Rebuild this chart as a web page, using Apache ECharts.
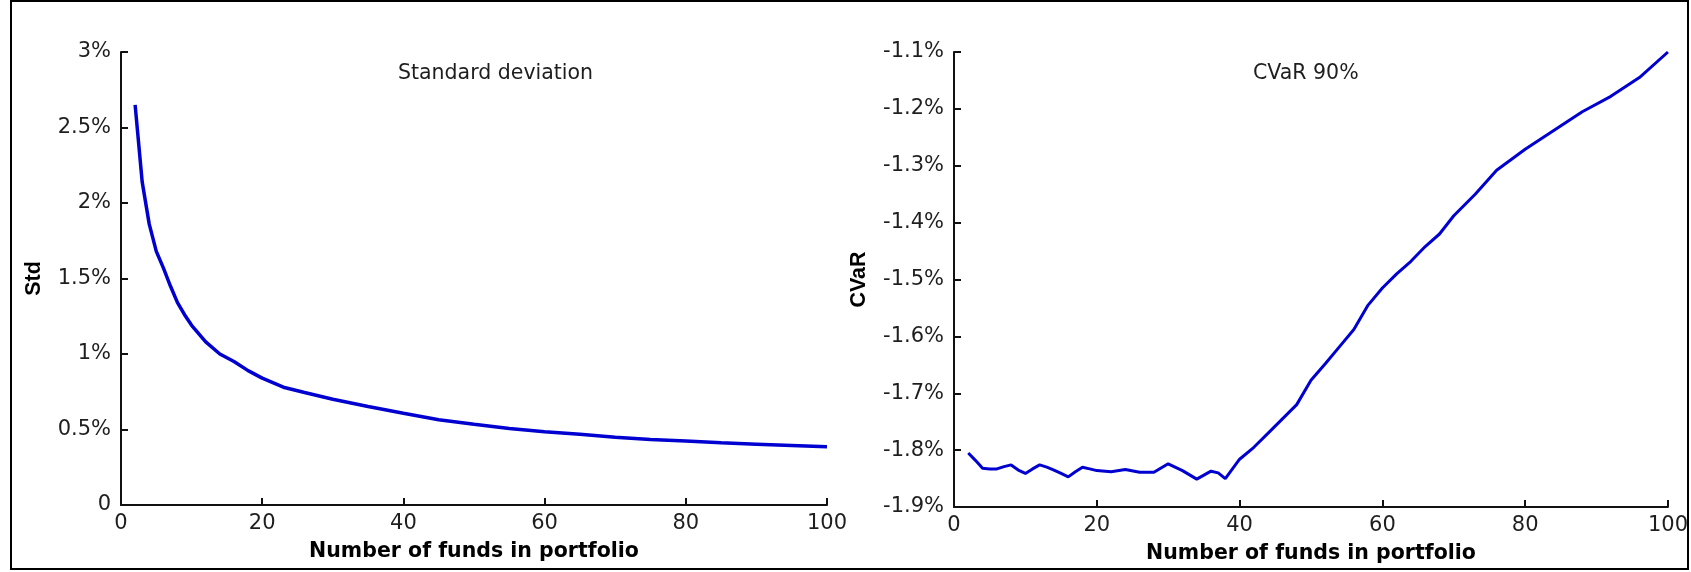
<!DOCTYPE html>
<html>
<head>
<meta charset="utf-8">
<script src="https://cdn.jsdelivr.net/npm/echarts@6/dist/echarts.min.js"></script>
<style>
html,body{margin:0;padding:0;background:#fff;}
#chart{width:1691px;height:572px;}
</style>
</head>
<body>
<div id="chart"></div>
<script>
// ---- data (values in percent) ----
const stdX = [2, 3, 4, 5, 6, 7, 8, 9, 10, 12, 14, 16, 18, 20, 23, 26, 30, 35, 40, 45, 50, 55, 60, 65, 70, 75, 80, 85, 90, 95, 100];
const stdY = [2.65, 2.14, 1.86, 1.68, 1.57, 1.45, 1.34, 1.26, 1.19, 1.08, 1.00, 0.95, 0.89, 0.84, 0.78, 0.745, 0.70, 0.652, 0.608, 0.565, 0.535, 0.507, 0.485, 0.468, 0.448, 0.434, 0.424, 0.412, 0.403, 0.394, 0.385];

const cvarX = [2, 3, 4, 5, 6, 7, 8, 9, 10, 11, 12, 13, 14, 15, 16, 17, 18, 19, 20, 22, 24, 26, 28, 30, 32, 34, 36, 37, 38, 40, 42, 44, 46, 48, 50, 52, 54, 56, 58, 60, 62, 64, 66, 68, 70, 73, 76, 80, 84, 88, 92, 96, 100];
const cvarY = [-1.805, -1.818, -1.832, -1.833, -1.833, -1.829, -1.826, -1.835, -1.841, -1.833, -1.826, -1.830, -1.835, -1.841, -1.847, -1.838, -1.830, -1.833, -1.836, -1.838, -1.834, -1.839, -1.839, -1.824, -1.836, -1.851, -1.837, -1.840, -1.850, -1.816, -1.795, -1.770, -1.745, -1.720, -1.677, -1.648, -1.618, -1.588, -1.545, -1.515, -1.490, -1.468, -1.442, -1.420, -1.388, -1.350, -1.308, -1.271, -1.238, -1.205, -1.178, -1.145, -1.100];

const xTickLabels = ['0', '20', '40', '60', '80', '100'];
const stdTickLabels = ['0', '0.5%', '1%', '1.5%', '2%', '2.5%', '3%'];
const cvarTickLabels = ['-1.9%', '-1.8%', '-1.7%', '-1.6%', '-1.5%', '-1.4%', '-1.3%', '-1.2%', '-1.1%'];

const xName = 'Number of funds in portfolio';
const stdName = 'Std';
const cvarName = 'CVaR';
const stdTitle = 'Standard deviation';
const cvarTitle = 'CVaR 90%';

// ---- styling ----
const tickFont = {fontFamily: 'DejaVu Sans', fontSize: 21, color: '#1e1e1e'};
const xNameFont = {fontFamily: 'DejaVu Sans', fontSize: 20.5, fontWeight: 'bold', color: '#000'};
const yNameFont = {fontFamily: 'Liberation Sans', fontSize: 21.5, fontWeight: 'bold', color: '#000'};
const titleFont = {fontFamily: 'DejaVu Sans', fontSize: 20.5, fontWeight: 'normal', color: '#1e1e1e'};
const lineColor = '#0000d0';
const axisColor = '#111';

function pairs(xs, ys) { return xs.map((x, i) => [x, ys[i]]); }
function idxFormatter(labels, min, step) {
  return v => labels[Math.round((v - min) / step)] ?? '';
}

function xAxisCfg(gridIndex) {
  return {
    type: 'value', gridIndex, min: 0, max: 100, interval: 20,
    name: xName, nameLocation: 'middle', nameGap: 36, nameTextStyle: xNameFont,
    axisLine: {show: true, onZero: false, lineStyle: {color: axisColor, width: 2}},
    axisTick: {show: true, inside: true, length: 7, lineStyle: {color: axisColor, width: 2}},
    axisLabel: Object.assign({margin: 8, showMinLabel: true, showMaxLabel: true,
      formatter: idxFormatter(xTickLabels, 0, 20)}, tickFont),
    splitLine: {show: false}
  };
}

function yAxisCfg(gridIndex, min, max, step, labels, name, gap) {
  return {
    type: 'value', gridIndex, min, max, interval: step,
    name, nameLocation: 'middle', nameGap: gap, nameTextStyle: yNameFont,
    axisLine: {show: true, onZero: false, lineStyle: {color: axisColor, width: 2}},
    axisTick: {show: true, inside: true, length: 7, lineStyle: {color: axisColor, width: 2}},
    axisLabel: Object.assign({margin: 10, showMinLabel: true, showMaxLabel: true,
      formatter: idxFormatter(labels, min, step)}, tickFont),
    splitLine: {show: false}
  };
}

const chart = echarts.init(document.getElementById('chart'), null, {renderer: 'canvas'});
chart.setOption({
  backgroundColor: '#fff',
  animation: false,
  title: [
    {text: stdTitle, left: 398, top: 63, padding: 0, textStyle: titleFont},
    {text: cvarTitle, left: 1253, top: 63, padding: 0, textStyle: titleFont}
  ],
  grid: [
    {left: 121, top: 52, width: 706, height: 453},
    {left: 954, top: 52, width: 721, height: 455}
  ],
  xAxis: [xAxisCfg(0), xAxisCfg(1)],
  yAxis: [
    yAxisCfg(0, 0, 3, 0.5, stdTickLabels, stdName, 76),
    yAxisCfg(1, -1.9, -1.1, 0.1, cvarTickLabels, cvarName, 84)
  ],
  series: [
    {type: 'line', xAxisIndex: 0, yAxisIndex: 0, data: pairs(stdX, stdY),
     showSymbol: false, lineStyle: {color: lineColor, width: 3.5}},
    {type: 'line', xAxisIndex: 1, yAxisIndex: 1, data: pairs(cvarX, cvarY),
     showSymbol: false, lineStyle: {color: lineColor, width: 3}}
  ],
  graphic: [
    {type: 'rect', silent: true, z: 100,
     shape: {x: 11, y: 1, width: 1677, height: 568},
     style: {fill: 'none', stroke: '#000', lineWidth: 2}}
  ]
});
</script>
</body>
</html>
